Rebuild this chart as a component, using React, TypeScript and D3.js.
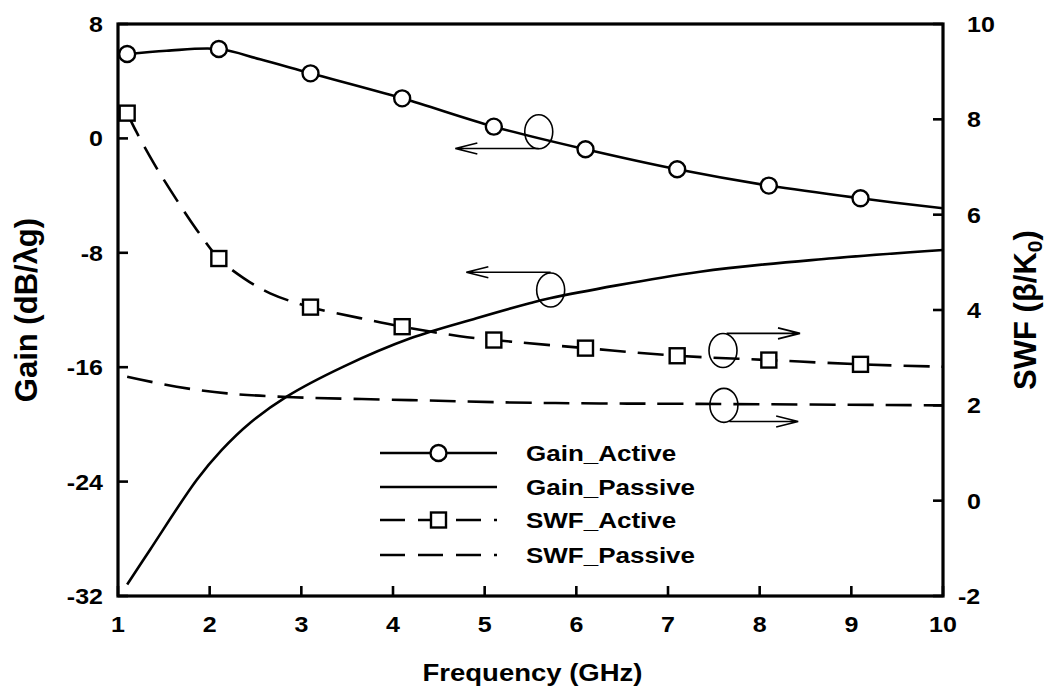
import React from "react";
import * as d3 from "d3";

// ---------- data ----------
const freqTicks = [1, 2, 3, 4, 5, 6, 7, 8, 9, 10];
const gainTicks = [-32, -24, -16, -8, 0, 8];
const swfTicks = [-2, 0, 2, 4, 6, 8, 10];

const gainActiveMarkerF = [1.1, 2.1, 3.1, 4.1, 5.1, 6.1, 7.1, 8.1, 9.1];
const gainActiveMarkerV = [5.9, 6.25, 4.55, 2.8, 0.82, -0.76, -2.16, -3.3, -4.19];
const gainActiveCurveF = [1.1, 1.53, 2.1, 2.55, 3.1, 4.1, 5.1, 6.1, 7.1, 8.1, 9.1, 10];
const gainActiveCurveV = [5.9, 6.13, 6.25, 5.53, 4.55, 2.8, 0.82, -0.76, -2.16, -3.3, -4.19, -4.89];

const gainPassiveF = [1.1, 1.35, 1.86, 2.13, 2.44, 2.84, 3.46, 4.19, 4.91, 5.49, 5.71, 7.35, 8.8, 10];
const gainPassiveV = [-31.2, -28.76, -23.87, -21.8, -19.9, -18.06, -15.96, -13.98, -12.58, -11.53, -11.18, -9.32, -8.38, -7.8];

const swfActiveMarkerF = [1.1, 2.1, 3.1, 4.1, 5.1, 6.1, 7.1, 8.1, 9.1];
const swfActiveMarkerV = [8.13, 5.08, 4.06, 3.65, 3.37, 3.2, 3.04, 2.95, 2.86];
const swfActiveCurveF = [1.1, 1.2, 1.39, 1.64, 1.86, 2.1, 2.37, 2.66, 3.1, 3.64, 4.1, 4.73, 5.1, 6.1, 7.1, 8.1, 9.1, 10];
const swfActiveCurveV = [8.13, 7.74, 7.08, 6.31, 5.68, 5.08, 4.67, 4.35, 4.06, 3.83, 3.65, 3.45, 3.37, 3.2, 3.04, 2.95, 2.86, 2.81];

const swfPassiveF = [1.1, 1.64, 2.19, 2.91, 4.19, 5.28, 6.26, 7.35, 10];
const swfPassiveV = [2.6, 2.39, 2.25, 2.17, 2.11, 2.06, 2.04, 2.03, 2.0];

const legendLabels = ["Gain_Active", "Gain_Passive", "SWF_Active", "SWF_Passive"];

// annotation ellipses (data coords) and arrows
const annotations = [
  { axis: "left", cf: 5.59, cv: 0.47, arrowV: -0.71, fromF: 5.59, toF: 4.68 },
  { axis: "left", cf: 5.72, cv: -10.6, arrowV: -9.36, fromF: 5.72, toF: 4.8 },
  { axis: "right", cf: 7.6, cv: 3.15, arrowV: 3.51, fromF: 7.64, toF: 8.44 },
  { axis: "right", cf: 7.61, cv: 2.0, arrowV: 1.66, fromF: 7.67, toF: 8.42 },
];

// ---------- layout ----------
const W = 1052;
const H = 696;
const L = 118, R = 943, T = 24, B = 596;
const FONT = "'Liberation Sans', Arial, sans-serif";
const SQ = 0.87;

const x = d3.scaleLinear().domain([1, 10]).range([L, R]);
const yL = d3.scaleLinear().domain([-32, 8]).range([B, T]);
const yR = d3.scaleLinear().domain([-2, 10]).range([B, T]);

function HText({ x: tx, y: ty, size, anchor = "start", children }: any) {
  return (
    <text
      transform={`translate(${tx},${ty}) scale(1,${SQ})`}
      fontFamily={FONT}
      fontWeight="bold"
      fontSize={size}
      textAnchor={anchor}
      fill="#000"
    >
      {children}
    </text>
  );
}

function arrowPath(x1: number, x2: number, yy: number) {
  const dir = x2 > x1 ? 1 : -1;
  const hx = x2 - dir * 22;
  return `M${x1},${yy}L${x2},${yy}M${hx},${yy - 5.5}L${x2},${yy}L${hx},${yy + 5.5}`;
}

export default function App() {
  const mk = (fs: number[], vs: number[], sy: any) =>
    d3
      .line<number>()
      .x((_, i) => x(fs[i]))
      .y((v) => sy(v))
      .curve(d3.curveCatmullRom.alpha(0.5))(vs) as string;

  const gaPath = mk(gainActiveCurveF, gainActiveCurveV, yL);
  const gpPath = mk(gainPassiveF, gainPassiveV, yL);
  const saPath = mk(swfActiveCurveF, swfActiveCurveV, yR);
  const spPath = mk(swfPassiveF, swfPassiveV, yR);

  const dash = "26 12";
  const legX1 = 380, legX2 = 497, legTextX = 526;
  const legY = [453, 487, 520, 555];
  const legMid = (legX1 + legX2) / 2;

  return (
    <svg
      width={W}
      height={H}
      style={{ position: "absolute", left: 0, top: 0, background: "#fff" }}
    >
      <rect x={0} y={0} width={W} height={H} fill="#fff" />
      <defs>
        <clipPath id="plot">
          <rect x={L} y={T - 20} width={R - L} height={B - T + 20} />
        </clipPath>
      </defs>

      {/* curves */}
      <g clipPath="url(#plot)" fill="none" stroke="#000">
        <path d={gpPath} strokeWidth={2.6} />
        <path d={spPath} strokeWidth={2.6} strokeDasharray={dash} />
        <path d={saPath} strokeWidth={2.6} strokeDasharray={dash} />
        <path d={gaPath} strokeWidth={2.6} />
      </g>

      {/* markers */}
      {gainActiveMarkerF.map((f, i) => (
        <circle key={"c" + i} cx={x(f)} cy={yL(gainActiveMarkerV[i])} r={8}
          fill="#fff" stroke="#000" strokeWidth={2.4} />
      ))}
      {swfActiveMarkerF.map((f, i) => (
        <rect key={"s" + i} x={x(f) - 7.5} y={yR(swfActiveMarkerV[i]) - 7.5}
          width={15} height={15} fill="#fff" stroke="#000" strokeWidth={2.4} />
      ))}

      {/* annotations */}
      <g fill="none" stroke="#000" strokeWidth={1.6}>
        {annotations.map((a, i) => {
          const sy = a.axis === "left" ? yL : yR;
          return (
            <g key={"a" + i}>
              <ellipse cx={x(a.cf)} cy={sy(a.cv)} rx={14} ry={17} />
              <path d={arrowPath(x(a.fromF), x(a.toF), sy(a.arrowV))} />
            </g>
          );
        })}
      </g>

      {/* frame */}
      <rect x={L} y={T} width={R - L} height={B - T} fill="none" stroke="#000" strokeWidth={3.2} />

      {/* ticks */}
      <g stroke="#000" strokeWidth={2.6}>
        {freqTicks.map((t) => (
          <line key={"xt" + t} x1={x(t)} x2={x(t)} y1={B} y2={B - 10} />
        ))}
        {gainTicks.map((t) => (
          <line key={"yl" + t} x1={L} x2={L + 10} y1={yL(t)} y2={yL(t)} />
        ))}
        {swfTicks.map((t) => (
          <line key={"yr" + t} x1={R} x2={R - 10} y1={yR(t)} y2={yR(t)} />
        ))}
      </g>

      {/* tick labels */}
      {freqTicks.map((t) => (
        <HText key={"xl" + t} x={x(t)} y={632} size={25} anchor="middle">{t}</HText>
      ))}
      {gainTicks.map((t) => (
        <HText key={"yll" + t} x={103} y={yL(t) + 8} size={25} anchor="end">{t}</HText>
      ))}
      {swfTicks.map((t) => (
        <HText key={"yrl" + t} x={t < 0 ? 958 : 967} y={yR(t) + 8} size={25} anchor="start">{t}</HText>
      ))}

      {/* axis titles */}
      <HText x={(L + R) / 2 + 2} y={681} size={27.5} anchor="middle">Frequency (GHz)</HText>
      <text
        transform={`translate(37,${(T + B) / 2}) rotate(-90)`}
        fontFamily={FONT}
        fontWeight="bold"
        fontSize={31}
        textAnchor="middle"
      >
        Gain (dB/λg)
      </text>
      <text
        transform={`translate(1036,${(T + B) / 2}) rotate(-90)`}
        fontFamily={FONT}
        fontWeight="bold"
        fontSize={31}
        textAnchor="middle"
      >
        SWF (β/K<tspan fontSize={21} dy={6}>0</tspan><tspan dy={-6}>)</tspan>
      </text>

      {/* legend */}
      <g stroke="#000" strokeWidth={2.6} fill="none">
        <line x1={legX1} x2={legX2} y1={legY[0]} y2={legY[0]} />
        <circle cx={legMid} cy={legY[0]} r={8} fill="#fff" strokeWidth={2.4} />
        <line x1={legX1} x2={legX2} y1={legY[1]} y2={legY[1]} />
        <line x1={legX1} x2={legX2} y1={legY[2]} y2={legY[2]} strokeDasharray="25 13" />
        <rect x={legMid - 7.5} y={legY[2] - 7.5} width={15} height={15} fill="#fff" strokeWidth={2.4} />
        <line x1={legX1} x2={legX2} y1={legY[3]} y2={legY[3]} strokeDasharray="25 13" />
      </g>
      {legendLabels.map((lab, i) => (
        <HText key={lab} x={legTextX} y={legY[i] + 8} size={26}>{lab}</HText>
      ))}
    </svg>
  );
}
